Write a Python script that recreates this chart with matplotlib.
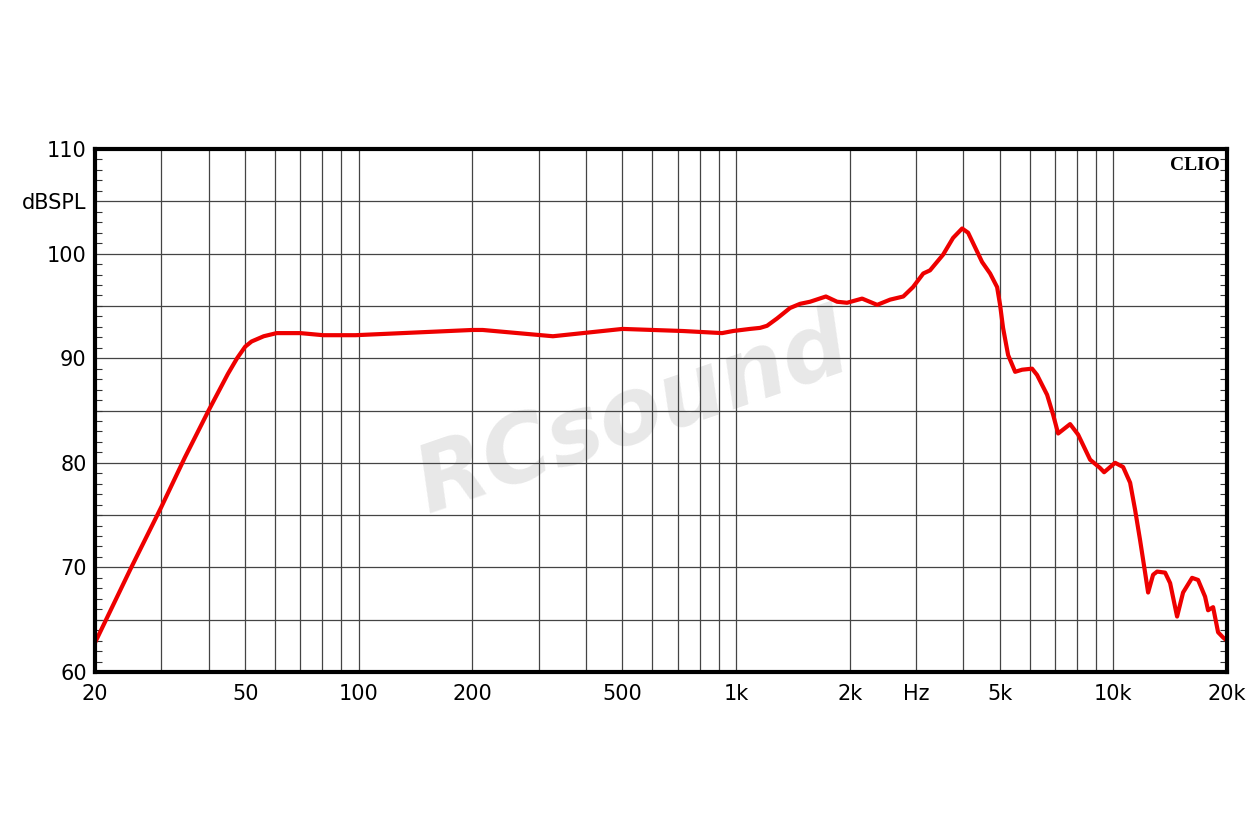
import numpy as np
import matplotlib.pyplot as plt
from matplotlib.ticker import FixedLocator, NullLocator

# frequency response (Hz, dB SPL)
freq = [20, 24.8, 30, 34.6, 40, 45, 47.6, 50, 52, 56, 60.6, 70, 80.5, 98,
        200, 213, 327, 500, 723, 918, 982, 1089, 1158, 1208, 1284, 1390, 1478,
        1571, 1730, 1852, 1968, 2158, 2366, 2560, 2774, 2944, 3134, 3266, 3537,
        3759, 3973, 4120, 4300, 4487, 4712, 4918, 5008, 5100, 5260, 5490, 5729,
        6088, 6276, 6673, 6922, 7137, 7678, 8062, 8675, 9221, 9449, 10103,
        10610, 11074, 11416, 11769, 12134, 12360, 12742, 13057, 13710, 14136,
        14749, 15298, 16163, 16764, 17498, 17820, 18374, 18942, 19532, 20000]
spl = [62.8, 69.8, 75.8, 80.5, 85.0, 88.5, 90.0, 91.1, 91.6, 92.1, 92.4, 92.4,
       92.2, 92.2, 92.7, 92.7, 92.1, 92.8, 92.6, 92.4, 92.6, 92.8, 92.9, 93.1,
       93.8, 94.8, 95.2, 95.4, 95.9, 95.4, 95.3, 95.7, 95.1, 95.6, 95.9, 96.8,
       98.1, 98.4, 99.9, 101.5, 102.4, 102.0, 100.6, 99.2, 98.1, 96.8, 95.1,
       92.9, 90.3, 88.7, 88.9, 89.0, 88.4, 86.5, 84.6, 82.8, 83.7, 82.7, 80.3,
       79.5, 79.1, 80.0, 79.6, 78.1, 75.5, 72.6, 69.5, 67.6, 69.3, 69.6, 69.5,
       68.5, 65.3, 67.6, 69.0, 68.8, 67.2, 65.9, 66.2, 63.8, 63.3, 63.0]

xticks = [20, 50, 100, 200, 500, 1000, 2000, 3000, 5000, 10000, 20000]
xlabels = ['20', '50', '100', '200', '500', '1k', '2k', 'Hz', '5k', '10k', '20k']
xgrid = [30, 40, 50, 60, 70, 80, 90, 100, 200, 300, 400, 500, 600, 700, 800, 900,
         1000, 2000, 3000, 4000, 5000, 6000, 7000, 8000, 9000, 10000]
yticks = [60, 70, 80, 90, 100, 105, 110]
ylabels = ['60', '70', '80', '90', '100', 'dBSPL', '110']

plt.rcParams['font.family'] = ['DejaVu Sans']

fig = plt.figure(figsize=(12.6, 8.4), dpi=100)
ax = fig.add_axes([0.0754, 0.2, 0.8984, 0.6226])

ax.set_xscale('log')
ax.set_xlim(20, 20000)
ax.set_ylim(60, 110)

# grid
for g in xgrid:
    ax.axvline(g, color='#444444', lw=0.9, zorder=1)
for g in range(65, 110, 5):
    ax.axhline(g, color='#444444', lw=0.9, zorder=1)

# watermark
ax.text(0.475, 0.49, 'RCsound', transform=ax.transAxes, fontsize=66,
        fontweight='bold', fontstyle='italic', color='#e8e8e8',
        rotation=19, ha='center', va='center', zorder=0)

ax.plot(freq, spl, color='#ee0000', lw=3, zorder=3,
        solid_joinstyle='round', solid_capstyle='round')

ax.xaxis.set_major_locator(FixedLocator(xticks))
ax.xaxis.set_minor_locator(NullLocator())
ax.set_xticklabels(xlabels)
ax.tick_params(axis='x', which='both', length=0, labelsize=15, pad=9)

ax.yaxis.set_major_locator(FixedLocator(yticks))
ax.set_yticklabels(ylabels)
ax.yaxis.set_minor_locator(FixedLocator(np.arange(60, 111, 1)))
ax.tick_params(axis='y', which='major', length=0, labelsize=15, pad=6)
ax.tick_params(axis='y', which='minor', direction='in', length=5, width=0.8,
               left=True, right=True, color='#333333')

for s in ax.spines.values():
    s.set_linewidth(3)
    s.set_color('black')
    s.set_zorder(4)

ax.text(0.994, 0.985, 'CLIO', transform=ax.transAxes, ha='right', va='top',
        fontsize=14, fontweight='bold', family=['Liberation Serif', 'DejaVu Serif'],
        zorder=5)

fig.savefig('out.png', dpi=100, facecolor='white')
